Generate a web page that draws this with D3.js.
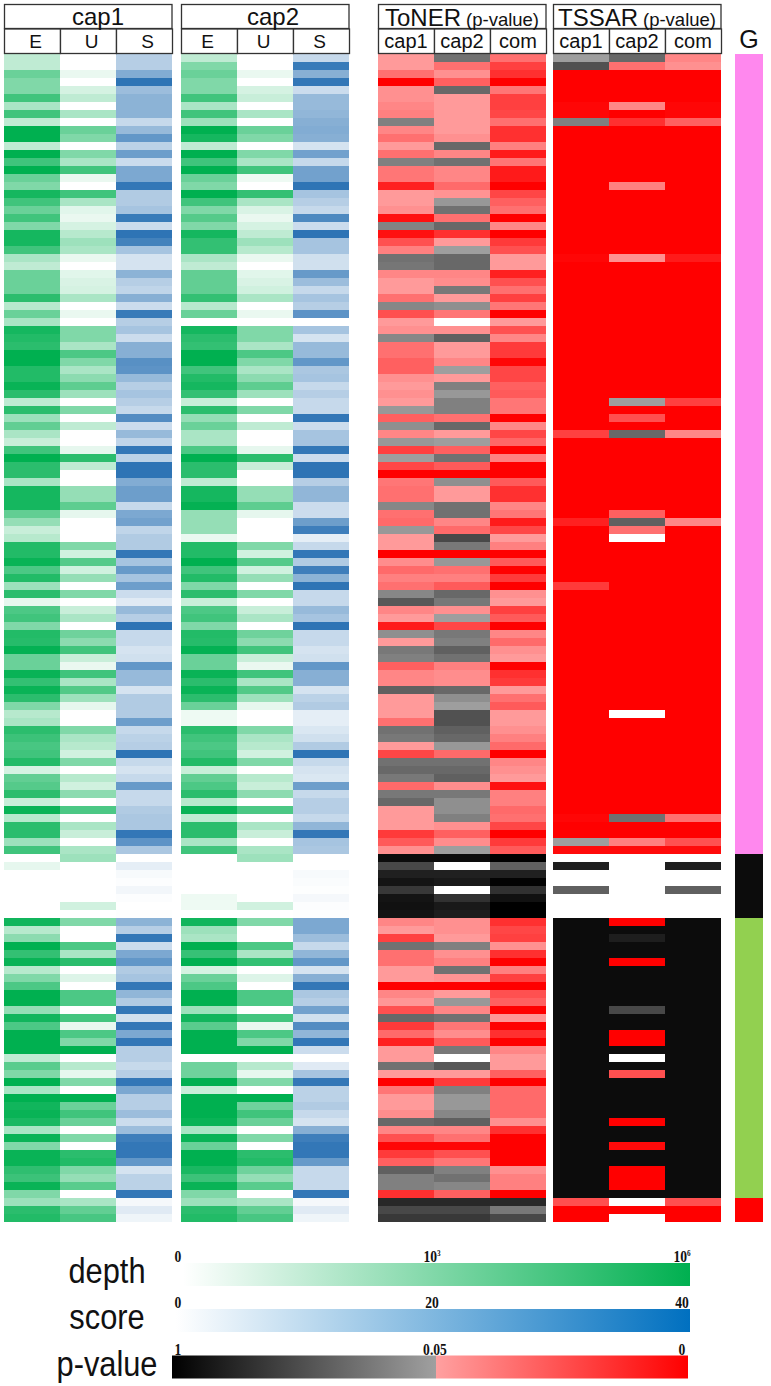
<!DOCTYPE html>
<html>
<head>
<meta charset="utf-8">
<script src="https://cdn.jsdelivr.net/npm/d3@7"></script>
<style>
  html, body { margin: 0; padding: 0; background: #fff; }
  svg { display: block; }
  text { font-family: "Liberation Sans", Arial, sans-serif; fill: #111; }
  .tick-label { font-family: "Liberation Serif", serif; font-weight: bold; font-size: 17px; }
</style>
</head>
<body>
<svg></svg>
<script>
// depth is log10 of the read count (0..6), score is 0..40, p-values 0..1, null = no value (white)
const depthCap1E = [
  1.5,1.5,3.5,3,3,4.5,2,4.5,1.5,6,6,1.5,6,4.5,6,3.5,3,5.5,4.5,3.5,4.5,3,5.5,5.5,4.5,2,1.5,3.5,3.5,3.5,
  5,1.7,3.5,2,5.5,5.2,5,6,6,5.2,5.2,5.8,
  5,1.5,5,2.3,3.7,2,1.3,4.5,6,5,5,2,
  5.5,5.5,5.5,3.7,2.5,1.3,1.7,5.2,5.2,5.8,4.2,5.2,
  2.3,5,.6,4.2,4.5,3,5.2,5.1,5.9,3.5,3.5,5.8,
  4.8,5.8,5,3,1.7,2,5,4.6,4.3,4.5,5.2,1,
  3.7,4,5,1.3,5.8,1.7,5,5,2.3,4.5,0,.6,
  0,0,0,0,0,0,5.6,1.7,2.7,6,4.8,5.8,
  1.7,3,4.2,6,6,2.5,5.6,4.2,6,6,6,1.5,3.9,
  3,6,2,6,5.6,5.8,5.4,2,5.8,3,5.8,5.8,4.9,4.6,
  5.8,3,2.3,5,5.2];
const depthCap1U = [
  0,0,.5,0,1,1.5,0,2,0,3.5,3,0,3,2,4.5,.5,0,4.5,2,.7,.5,1,1.7,2.3,2,.5,0,.7,.9,1,
  2,0,.5,0,3,3,2,4.2,3,2,2.7,3.8,
  2.3,0,3,0,1.5,0,0,.6,5,1.5,0,0,
  2.5,2.5,3.8,.6,0,0,0,3,1.1,4,1.1,2.5,
  0,3,0,1.3,2,0,3.4,2.7,4.5,1.3,.5,4.5,
  2,4.1,2.3,.6,0,0,3,2,1.7,1.1,3,0,
  1.7,1.1,2.7,0,4.2,0,2,1.3,0,2,2.3,0,
  0,0,0,0,1.1,0,3,0,0,4.2,2,5,
  0,.8,0,4.2,4.2,0,4.4,.5,4.2,3,6,0,1.7,
  .6,3,0,6,3.5,4.5,3.5,0,3,0,5,5.2,3,2.5,
  3.9,0,2,3.7,4.3];
const scoreCap1 = [
  14,14,24,40,19,22,22,22,11,20,30,13,28,10,25,25,39,15,15,17,38,10,40,36,17,8,8,22,14,12,
  23,10,38,14,17,10,23,23,32,31,20,14,
  17,14,11,33,10,20,12,39,13,40,40,24,
  28,28,11,25,27,12,15,15,39,17,29,17,
  28,10,6,20,14,40,11,11,8,9,30,20,
  20,8,15,15,15,28,11,13,14,40,11,8,
  11,29,11,11,15,16,16,39,31,16,0,5,
  1.5,.5,2.5,.5,0,.3,22,14,39,10,25,30,
  15,17,39,21,15,39,9,39,25,39,14,14,11,
  14,39,25,14,14,19,10,19,37,39,39,30,8,13,
  13,39,2,6,3];
const depthCap2E = [
  1.5,3,3.5,3,3,4.5,2,4.5,2.3,6,5.5,1.5,6,4.5,6,3.5,3,6,4.5,3,4,3,5.5,4.8,4.8,2,1.5,3.7,3.7,3.7,
  4.8,1.7,3.5,0,5.5,5,4.8,6,6,4.5,5.2,5.5,
  4.8,1.3,5,2.5,3.5,2,2,4.2,6,5,5,1.5,
  5.5,5.5,5.9,2.5,2.5,2.5,.5,5.2,5.2,6,4.5,5.2,
  3,5,1.3,4.2,4.5,3,5.2,5.1,5.9,3.5,3.5,5.8,
  5,5.8,5,3.5,.4,.4,5,4.5,4.2,4.5,5.2,1.3,
  3.7,4.2,5,1.7,5.8,1.5,5,5,2,4.5,0,0,
  0,0,0,.4,.4,0,5.6,2.3,2,6,4.7,6,
  1,3.5,4.2,6,6,2.3,5.6,3.9,6,6,6,0,3.4,
  3.4,6,1.3,6,6,6,5.8,2,5.8,3.5,6,6,5.4,4.6,
  5.8,3,2.3,5,5.2];
const depthCap2U = [
  0,0,.5,0,1,1.3,0,2,0,3.5,3,0,3,2,4.5,.4,0,4.8,2,.9,.5,1,1.5,2.3,1.7,.5,0,.7,.9,1.1,
  2,0,.5,0,3,3,2,4.2,3,2,2.7,3.8,
  2.3,0,3,0,1.5,0,0,.6,5,1.3,0,0,
  2.5,2.5,3.8,.6,0,0,0,3,1.1,4,1.1,2.5,
  0,3,0,1.3,2,0,3.4,2.7,4.5,1.3,.5,4.5,
  2,4.1,2.3,.6,0,0,3,2,1.7,1.1,3,0,
  1.7,1.3,2.7,0,4.2,0,2,1.3,0,2,2.3,0,
  0,0,0,0,1.1,0,3,0,0,4.2,2,4.8,
  0,.8,0,4.2,4.2,0,4.4,.5,4.2,3,6,0,1.7,
  .6,3,0,6,3.4,4.5,3.5,0,3,0,5,5.2,3.4,2.5,
  3.9,0,2,3.7,4.3];
const scoreCap2 = [
  11,38,23,39,10,20,20,21,23,24,23,8,27,11,27,27,40,17,14,11,34,10,40,17,17,9,9,29,19,11,
  17,14,31,0,17,8,20,20,30,16,17,11,
  14,11,11,39,10,17,17,39,10,40,40,14,
  21,21,10,10,28,37,5,11,39,15,37,22,
  40,11,11,20,17,40,11,11,8,9,30,23,
  23,8,13,15,5,5,7,9,15,40,11,8,
  7,28,11,14,14,11,21,39,17,16,0,0,
  1.5,1,.3,2,.5,.3,25,25,19,11,21,30,
  8,23,39,16,14,27,9,33,21,39,10,0,6,
  17,39,13,13,15,11,8,23,37,39,39,29,11,11,
  11,39,2,6,3];
const tonerCap1 = [
  .048,.048,.035,0,.045,.045,.042,.04,.24,.042,.035,.048,.035,.24,.037,.037,.01,.048,.048,.045,.005,.22,.005,.025,.04,.33,.3,.042,.048,.048,
  .035,.2,.025,.048,.045,.2,.035,.035,.03,.03,.045,.048,
  .045,.048,.1,.03,.15,.042,.1,.02,.06,.022,0,.037,
  .035,.035,.2,.035,.033,.1,.048,.048,0,.044,.033,.04,
  .035,.2,.48,.042,.048,.008,.15,.048,.29,.24,.03,.042,
  .042,.43,.048,.048,.048,.035,.33,.29,.048,.022,.33,.38,
  .29,.033,.29,.38,.048,.048,.048,.018,.028,.045,.93,.57,
  .81,.88,.67,.88,.9,.88,.042,.048,.02,.33,.035,.035,
  .048,.048,0,.042,.047,.025,.38,.018,.033,.01,.048,.048,.33,
  .048,0,.037,.048,.048,.044,.38,.042,.025,.002,.018,.03,.43,.24,
  .24,.015,.76,.57,.67];
const tonerCap2 = [
  .33,.035,.045,.03,.38,.048,.048,.048,.048,.048,.045,.38,.042,.33,.042,.042,.033,.046,.1,.33,.035,.38,.015,.048,.06,.38,.38,.042,.044,.29,
  .048,.15,.037,null,.045,.43,.048,.048,.042,.06,.048,.24,
  .1,.24,.24,.035,.38,.048,.06,.03,.33,.028,0,.15,
  .048,.048,.33,.33,.042,.033,.57,.29,0,.1,.035,.04,
  .028,.38,.29,.045,.06,.022,.29,.24,.43,.33,.04,.044,
  .044,.38,.15,.06,.52,.52,.43,.38,.1,.033,.33,.38,
  .43,.044,.29,.15,.15,.24,.045,.03,.044,.06,.93,null,
  .81,.85,null,.71,.85,.82,.045,.045,.048,.24,.045,.04,
  .33,.046,0,.048,.1,.042,.33,.037,.044,.028,.29,null,.48,
  .048,.018,.24,.1,.1,.2,.43,.042,.035,.002,.025,.037,.24,.33,
  .2,.03,.76,.57,.67];
const tonerCom = [
  .035,.02,.015,0,.037,.02,.02,.022,.035,.015,.015,.04,.008,.037,.008,.008,0,.022,.03,.035,0,.042,0,.018,.025,.048,.048,.01,.025,.035,
  .02,.037,0,.048,.025,.042,.018,.018,.002,.022,.022,.03,
  .028,.037,.037,0,.042,.022,.032,0,.04,0,0,.028,
  .015,.015,.042,.037,.008,.022,.048,.04,0,.028,0,.018,
  0,.045,.048,.02,.028,0,.042,.033,.045,.048,0,.015,
  .018,.048,.035,.028,.048,.048,.045,.04,.033,0,.042,.045,
  .048,.005,.04,.04,.033,.035,.022,0,.018,.028,1,.43,
  .81,.98,.71,.9,1,1,.015,.022,.02,.045,.015,0,
  .04,.02,0,.025,.03,0,.047,0,.015,0,.042,.048,.048,
  .03,0,.033,.033,.033,.033,.045,.015,0,0,0,0,.045,.04,
  .04,0,.76,.29,.57];
const tssarCap1 = [
  .06,.52,0,0,0,0,.002,.002,.24,0,0,0,0,0,0,0,0,0,0,0,0,0,0,0,0,.002,0,0,0,0,
  0,0,0,0,0,0,0,0,0,0,0,0,
  0,0,0,0,0,.02,0,0,0,0,0,0,
  0,0,0,0,.01,0,0,0,0,0,0,0,
  .018,0,0,0,0,0,0,0,0,0,0,0,
  0,0,0,0,0,0,0,0,0,0,0,0,
  0,0,0,0,0,.002,0,0,.06,.003,null,.82,
  null,null,.43,null,null,null,.93,.93,.93,.93,.93,.93,
  .93,.93,.93,.93,.93,.93,.93,.93,.93,.93,.93,.93,.93,
  .93,.93,.93,.93,.93,.93,.93,.93,.93,.93,.93,.93,.93,.93,
  .93,.93,.025,0,0];
const tssarCap2 = [
  .38,.035,0,0,0,0,.042,0,.015,0,0,0,0,0,0,0,.04,0,0,0,0,0,0,0,0,.045,0,0,0,0,
  0,0,0,0,0,0,0,0,0,0,0,0,
  0,.06,0,.025,0,.38,0,0,0,0,0,0,
  0,0,0,.03,.43,.035,null,0,0,0,0,0,
  0,0,0,0,0,0,0,0,0,0,0,0,
  0,0,0,0,null,0,0,0,0,0,0,0,
  0,0,0,0,0,.33,0,0,.04,.003,null,null,
  null,null,null,null,null,null,0,.93,.82,.93,.93,0,
  .93,.93,.93,.93,.93,.57,.93,.93,0,0,.93,null,.93,
  .025,.93,.93,.93,.93,.93,0,.93,.93,.003,.93,.93,0,0,
  0,.93,null,0,null];
const tssarCom = [
  .042,.045,0,0,0,0,.002,.002,.03,0,0,0,0,0,0,0,0,0,0,0,0,0,0,0,0,.008,0,0,0,0,
  0,0,0,0,0,0,0,0,0,0,0,0,
  0,.02,0,0,0,.042,0,0,0,0,0,0,
  0,0,0,0,.042,0,0,0,0,0,0,0,
  0,0,0,0,0,0,0,0,0,0,0,0,
  0,0,0,0,0,0,0,0,0,0,0,0,
  0,0,0,0,0,.035,0,0,.025,.003,null,.82,
  null,null,.43,null,null,null,.93,.93,.93,.93,.93,.93,
  .93,.93,.93,.93,.93,.93,.93,.93,.93,.93,.93,.93,.93,
  .93,.93,.93,.93,.93,.93,.93,.93,.93,.93,.93,.93,.93,.93,
  .93,.93,.025,0,0];
// rows in each group of the G strip
const groupNames = ["g1", "g2", "g3", "g4"];
const groupCounts = [100, 8, 35, 3];
const groupColors = ["#ff88ee", "#0c0c0c", "#92d050", "#ff0000"];

const nRows = depthCap1E.length;
const width = 771, height = 1386;
const svg = d3.select("svg").attr("width", width).attr("height", height);

const y = d3.scaleBand().domain(d3.range(nRows)).range([54, 1222]);

const depthColor = d3.scaleLinear().domain([0, 6]).range(["#ffffff", "#00b050"]);
const scoreColor = d3.scaleLinear().domain([0, 40]).range(["#ffffff", "#2e74b5"]);
const grayColor = d3.scaleLinear().domain([.05, 1]).range(["#a0a0a0", "#000000"]);
const redColor = d3.scaleLinear().domain([0, .05]).range(["#ff0000", "#ffa0a0"]);
const pColor = p => p === null ? "#ffffff" : (p > .05 ? grayColor(p) : redColor(p));

const panels = [
  {title: "cap1", x0: 4, titleDx: 10, subDx: 3.5, sub: ["E", "U", "S"], subSize: 19, cols: [depthCap1E, depthCap1U, scoreCap1], colors: [depthColor, depthColor, scoreColor]},
  {title: "cap2", x0: 181, titleDx: 8, subDx: -1.5, sub: ["E", "U", "S"], subSize: 19, cols: [depthCap2E, depthCap2U, scoreCap2], colors: [depthColor, depthColor, scoreColor]},
  {title: "ToNER", x0: 378, titleDx: 0, subDx: 0, sub: ["cap1", "cap2", "com"], subSize: 20, cols: [tonerCap1, tonerCap2, tonerCom], colors: [pColor, pColor, pColor], note: "(p-value)"},
  {title: "TSSAR", x0: 553, titleDx: 0, subDx: 0, sub: ["cap1", "cap2", "com"], subSize: 20, cols: [tssarCap1, tssarCap2, tssarCom], colors: [pColor, pColor, pColor], note: "(p-value)"}
];

panels.forEach(p => {
  const x = d3.scaleBand().domain(d3.range(3)).range([p.x0, p.x0 + 168]);
  const g = svg.append("g");

  p.cols.forEach((col, c) => {
    g.append("g").selectAll("rect")
      .data(col)
      .enter()
      .append("rect")
      .attr("x", x(c))
      .attr("y", (d, i) => y(i))
      .attr("width", x.bandwidth())
      .attr("height", y.bandwidth())
      .attr("fill", d => p.colors[c](d))
      .attr("shape-rendering", "crispEdges");
  });

  // header boxes
  g.append("rect").attr("x", p.x0 + .5).attr("y", 4.5).attr("width", 167.5).attr("height", 24)
    .attr("fill", "#fff").attr("stroke", "#333").attr("stroke-width", 1.3);
  g.selectAll(".sub")
    .data(p.sub)
    .enter()
    .append("rect")
    .attr("class", "sub")
    .attr("x", (d, i) => x(i) + .5)
    .attr("y", 29)
    .attr("width", x.bandwidth())
    .attr("height", 24.5)
    .attr("fill", "#fff")
    .attr("stroke", "#333")
    .attr("stroke-width", 1.3);

  const title = g.append("text")
    .attr("x", p.x0 + 84 + p.titleDx)
    .attr("y", p.note ? 26 : 25)
    .attr("text-anchor", "middle")
    .style("font-size", "24px")
    .text(p.title);
  if (p.note) {
    title.append("tspan").attr("dx", 5).style("font-size", "18.5px").text(p.note);
  }
  g.selectAll(".sublabel")
    .data(p.sub)
    .enter()
    .append("text")
    .attr("class", "sublabel")
    .attr("x", (d, i) => x(i) + x.bandwidth() / 2 + p.subDx)
    .attr("y", 48)
    .attr("text-anchor", "middle")
    .style("font-size", p.subSize + "px")
    .text(d => d);
});

// G strip
let rowStart = 0;
groupNames.forEach((name, i) => {
  svg.append("rect")
    .attr("x", 735)
    .attr("y", y(rowStart))
    .attr("width", 28)
    .attr("height", y.bandwidth() * groupCounts[i])
    .attr("fill", groupColors[i])
    .attr("shape-rendering", "crispEdges");
  rowStart += groupCounts[i];
});
svg.append("text").attr("x", 749).attr("y", 48).attr("text-anchor", "middle")
  .style("font-size", "25px").text("G");

// colour key
const keyNames = ["depth", "score", "p-value"];
const keyTop = [1263, 1309, 1355.5];
const keyLeft = [183, 176, 172];
const keyRight = [690, 690, 688];
const keyTicks = [["0", "10", "10"], ["0", "20", "40"], ["1", "0.05", "0"]];
const keyTickPowers = [[null, "3", "6"], [null, null, null], [null, null, null]];
const keyTickX = [[178, 432, 682], [178, 432, 682], [178, 435, 682]];
const keyStops = [
  [[0, "#ffffff"], [1, "#00b050"]],
  [[0, "#ffffff"], [1, "#0070c0"]],
  [[0, "#000000"], [.512, "#a0a0a0"], [.512, "#ffa0a0"], [1, "#ff0000"]]
];

const defs = svg.append("defs");
keyNames.forEach((name, k) => {
  const grad = defs.append("linearGradient").attr("id", "key" + k);
  grad.selectAll("stop").data(keyStops[k]).enter().append("stop")
    .attr("offset", d => d[0]).attr("stop-color", d => d[1]);

  svg.append("rect")
    .attr("x", keyLeft[k])
    .attr("y", keyTop[k])
    .attr("width", keyRight[k] - keyLeft[k])
    .attr("height", 23)
    .attr("fill", `url(#key${k})`);

  svg.append("text")
    .attr("transform", `translate(107,${keyTop[k] + 20}) scale(.88,1)`)
    .attr("text-anchor", "middle")
    .style("font-size", "35px")
    .text(name);

  keyTicks[k].forEach((t, i) => {
    const label = svg.append("text")
      .attr("class", "tick-label")
      .attr("text-anchor", "middle")
      .attr("transform", `translate(${keyTickX[k][i]},${keyTop[k] - 1}) scale(.8,1)`)
      .text(t);
    if (keyTickPowers[k][i]) {
      label.append("tspan").attr("dy", -6).style("font-size", "9px").text(keyTickPowers[k][i]);
    }
  });
});
</script>
</body>
</html>
